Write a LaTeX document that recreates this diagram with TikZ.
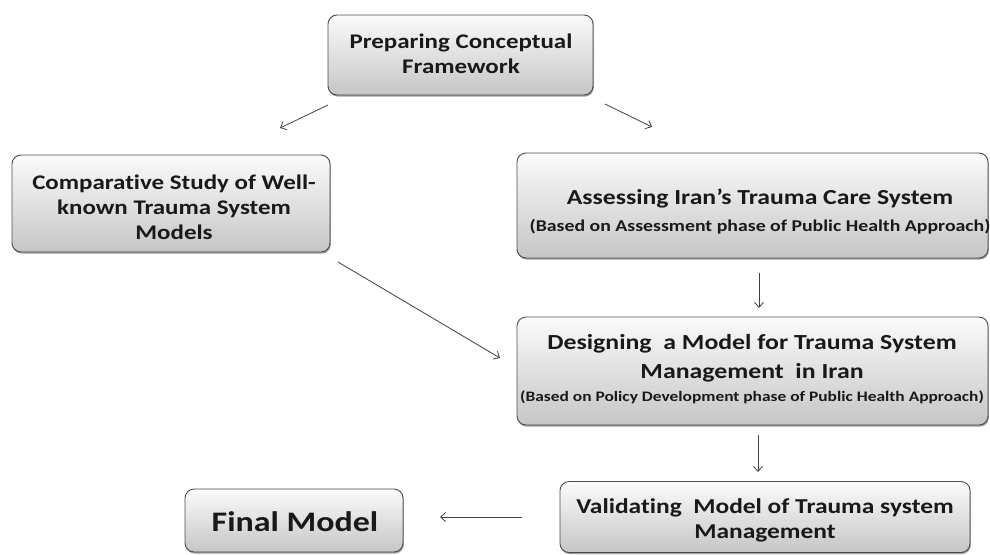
\documentclass[tikz,border=0pt]{standalone}
\usepackage{fontspec}
\setmainfont{Carlito}[FakeStretch=1.2, Ligatures=NoCommon]
\usetikzlibrary{shadows,arrows.meta}
\begin{document}
\begin{tikzpicture}[x=1pt,y=-1pt,
  box/.style={draw=black!70, line width=0.9pt, rounded corners=9pt,
    top color=gray!3, bottom color=gray!45, inner sep=0pt,
    drop shadow={shadow xshift=0.8pt, shadow yshift=-1.6pt, opacity=0.55, fill=black!70}},
  txt/.style={align=center, inner sep=0pt, text=black!90},
  conn/.style={draw=black!75, line width=0.8pt, -{Straight Barb[length=5pt,width=9pt]}}
]
\useasboundingbox (0,0) rectangle (990,554);

\node[box, minimum width=265pt, minimum height=80pt] (top) at (460.5,55) {};
\node[txt, font={\bfseries\fontsize{20.8}{25}\selectfont}] (topT) at (461,54)
  {Preparing Conceptual\\Framework};

\node[box, minimum width=318pt, minimum height=97pt] (comp) at (171,203.5) {};
\node[txt, font={\bfseries\fontsize{20.8}{25}\selectfont}] (compT) at (174,207)
  {Comparative Study of Well-\\known Trauma System\\Models};

\node[box, minimum width=471pt, minimum height=105pt] (assess) at (752.5,205.5) {};
\node[txt, font={\bfseries\fontsize{21.4}{22}\selectfont}] (assessT) at (760,212)
  {Assessing Iran’s Trauma Care System\\[5pt]
   \fontsize{16.5}{18}\selectfont (Based on Assessment phase of Public Health Approach)};

\node[box, minimum width=471pt, minimum height=108pt] (design) at (752.5,371) {};
\node[txt, font={\bfseries\fontsize{21.5}{29}\selectfont}] (designT) at (752,369)
  {Designing\ \ a Model for Trauma System\\
   Management\ \ in Iran\\[-6pt]
   \fontsize{14.5}{20}\selectfont (Based on Policy Development phase of Public Health Approach)};

\node[box, minimum width=218pt, minimum height=63pt] (final) at (294,520.5) {};
\node[txt, font={\bfseries\fontsize{28.3}{30}\selectfont}] (finalT) at (295,522)
  {Final Model};

\node[box, minimum width=410pt, minimum height=71pt] (valid) at (765,517) {};
\node[txt, font={\bfseries\fontsize{21.2}{25}\selectfont}] (validT) at (765,520)
  {Validating\ \ Model of Trauma system\\Management};

\coordinate (a1s) at (328,105);
\coordinate (a1e) at (280,128);
\coordinate (a2s) at (605,104);
\coordinate (a2e) at (652,127);
\coordinate (a3s) at (338,262);
\coordinate (a3e) at (500,358);
\coordinate (a4s) at (759,273);
\coordinate (a4e) at (759,308);
\coordinate (a5s) at (758,435);
\coordinate (a5e) at (758,472);
\coordinate (a6s) at (522,517);
\coordinate (a6e) at (440,517);

\draw[conn] (a1s) -- (a1e);
\draw[conn] (a2s) -- (a2e);
\draw[conn] (a3s) -- (a3e);
\draw[conn] (a4s) -- (a4e);
\draw[conn] (a5s) -- (a5e);
\draw[conn] (a6s) -- (a6e);
\end{tikzpicture}
\end{document}
